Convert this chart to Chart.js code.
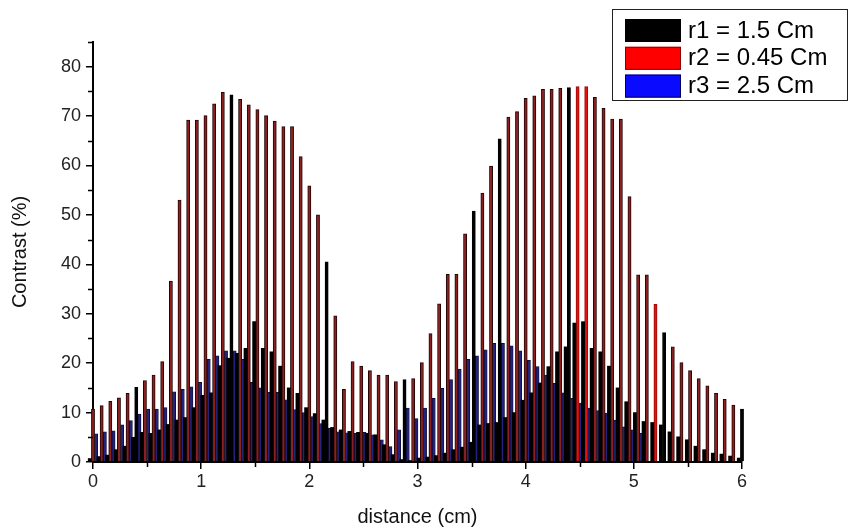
<!DOCTYPE html>
<html>
<head>
<meta charset="utf-8">
<script src="https://cdn.jsdelivr.net/npm/chart.js@4.4.1/dist/chart.umd.min.js"></script>
<style>
  html, body { margin: 0; padding: 0; background: #fff; }
</style>
</head>
<body>
<canvas id="chart" width="850" height="531"></canvas>
<script>
// distance (cm): one group of three bars every 0.08 cm, from 0 to 6
const distance = Array.from({ length: 76 }, (_, i) => +(i * 0.08).toFixed(2));

// contrast (%) per series
const r1 = [0.7, 1.1, 1.4, 2.5, 3.2, 5.0, 6.0, 5.8, 6.5, 7.6,
            8.5, 9.0, 11.0, 13.5, 14.0, 19.5, 21.0, 22.0, 23.0, 28.4,
            23.0, 22.3, 19.4, 15.0, 13.9, 11.0, 9.8, 8.5, 7.0, 6.5,
            6.2, 6.0, 5.8, 5.5, 3.5, 1.5, 0.5, 0.3, 0.8, 1.0,
            1.3, 1.8, 2.5, 3.0, 4.0, 7.5, 7.8, 8.0, 9.0, 10.0,
            12.5, 14.0, 16.0, 19.3, 22.3, 23.3, 28.1, 28.4, 23.0, 22.3,
            19.4, 15.0, 12.2, 10.0, 8.2, 8.0, 7.5, 6.1, 5.1, 4.5,
            3.2, 2.5, 1.8, 1.6, 1.2, 0.8];
const r2 = [10.7, 11.4, 12.3, 13.0, 13.9, 15.1, 16.5, 17.6, 20.3, 36.6,
            53.0, 69.2, 69.2, 70.1, 72.5, 74.8, 74.3, 73.4, 72.3, 71.3,
            70.1, 69.0, 67.9, 67.9, 61.8, 55.9, 50.0, 40.5, 29.6, 14.7,
            20.3, 19.4, 18.5, 17.6, 17.6, 16.3, 16.7, 16.9, 20.1, 26.0,
            32.0, 38.0, 38.0, 46.2, 50.8, 54.4, 59.9, 65.4, 69.8, 70.9,
            73.6, 74.1, 75.4, 75.4, 75.6, 75.8, 76.0, 76.0, 73.8, 71.6,
            69.4, 69.4, 53.7, 37.9, 37.9, 31.9, 26.2, 23.3, 20.1, 18.5,
            16.9, 15.4, 13.9, 12.7, 11.5, 10.7];
const r3 = [5.7, 6.1, 6.3, 7.5, 8.4, 9.7, 10.7, 10.7, 11.0, 14.2,
            14.7, 15.2, 16.1, 20.8, 21.5, 22.5, 22.5, 20.8, 16.1, 15.0,
            14.1, 14.1, 12.6, 10.6, 10.0, 9.2, 7.8, 6.8, 6.1, 5.9,
            5.8, 6.0, 5.5, 4.5, 3.1, 6.5, 10.9, 8.8, 10.9, 12.9,
            14.9, 16.7, 18.8, 20.8, 21.5, 22.7, 24.0, 24.0, 23.5, 22.5,
            20.6, 19.3, 17.6, 15.9, 14.0, 12.9, 11.9, 10.9, 10.4, 9.9,
            8.5, 7.1, 6.5, 5.8, 0, 0, 0, 0, 0, 0,
            0, 0, 0, 0, 0, 0];

const seriesLabels = ['r1 = 1.5 Cm', 'r2 = 0.45 Cm', 'r3 = 2.5 Cm'];
const xTicks = [0, 1, 2, 3, 4, 5, 6];
const xMinor = [0.5, 1.5, 2.5, 3.5, 4.5, 5.5];
const yTicks = [0, 10, 20, 30, 40, 50, 60, 70, 80];
const yMinor = [5, 15, 25, 35, 45, 55, 65, 75, 85];

// r2 bars that the original draws black or bright red
const r2BlackAt = [5, 16, 27, 36, 44, 47, 55, 66, 75];
const r2BrightAt = [56, 57, 65];

const pts = vals => vals.map((v, i) => ({ x: distance[i], y: v }));

const r2Fill = r2.map((_, i) =>
  r2BlackAt.includes(i) ? '#000000' : r2BrightAt.includes(i) ? '#e3120c' : '#8c2020');
const r2Edge = r2.map((_, i) =>
  r2BlackAt.includes(i) ? '#000000' : r2BrightAt.includes(i) ? '#9a0a08' : '#220505');

const tickFont = { family: '"Liberation Sans Narrow", "Liberation Sans", Arial, sans-serif', size: 18 };
const titleFont = { family: '"Liberation Sans", Arial, sans-serif', size: 20 };

// shorter ticks at the half steps
const minorTicks = {
  id: 'minorTicks',
  afterDraw(chart) {
    const { ctx, scales: { x, y }, chartArea: a } = chart;
    ctx.save();
    ctx.strokeStyle = '#000';
    ctx.lineWidth = 1.5;
    ctx.beginPath();
    xMinor.forEach(v => {
      const px = Math.round(x.getPixelForValue(v)) + 0.5;
      ctx.moveTo(px, a.bottom);
      ctx.lineTo(px, a.bottom + 5);
    });
    yMinor.forEach(v => {
      const py = Math.round(y.getPixelForValue(v)) + 0.5;
      ctx.moveTo(a.left, py);
      ctx.lineTo(a.left - 5, py);
    });
    ctx.stroke();
    ctx.restore();
  }
};

// boxed legend in the top right corner
const legendBox = {
  id: 'legendBox',
  afterDraw(chart) {
    const ctx = chart.ctx;
    const sw = [['#000000', '#000000'], ['#ff0000', '#8a0000'], ['#0a0aff', '#000060']];
    ctx.save();
    ctx.fillStyle = '#fff';
    ctx.fillRect(612, 9, 235, 91);
    ctx.strokeStyle = '#222';
    ctx.lineWidth = 1;
    ctx.strokeRect(612.5, 9.5, 235, 91);
    ctx.font = '24px "Liberation Sans", Arial, sans-serif';
    ctx.textBaseline = 'middle';
    seriesLabels.forEach((t, i) => {
      const cy = 30 + i * 27.8;
      ctx.fillStyle = sw[i][0];
      ctx.fillRect(625, cy - 11, 56, 23);
      ctx.strokeStyle = sw[i][1];
      ctx.strokeRect(625.5, cy - 10.5, 55, 22);
      ctx.fillStyle = '#000';
      ctx.fillText(t, 688, cy + 1);
    });
    ctx.restore();
  }
};

new Chart(document.getElementById('chart'), {
  type: 'bar',
  data: {
    datasets: [
      { label: seriesLabels[0], data: pts(r1), backgroundColor: '#000000', borderWidth: 0 },
      { label: seriesLabels[1], data: pts(r2), backgroundColor: r2Fill, borderColor: r2Edge, borderWidth: 1 },
      { label: seriesLabels[2], data: pts(r3), backgroundColor: '#23237e', borderColor: '#0a0a35', borderWidth: 0.8 }
    ]
  },
  options: {
    responsive: false,
    animation: false,
    layout: { padding: { top: 42, right: 108, left: 0, bottom: 0 } },
    datasets: { bar: { barThickness: 3.2, clip: 6 } },
    plugins: { legend: { display: false }, tooltip: { enabled: false } },
    scales: {
      x: {
        type: 'linear', min: 0, max: 6, offset: false,
        afterBuildTicks: s => { s.ticks = xTicks.map(v => ({ value: v })); },
        afterFit: s => { s.height = 69; },
        grid: { drawOnChartArea: false, offset: false, tickLength: 7, color: '#000', lineWidth: 1.5 },
        border: { display: true, color: '#000', width: 2 },
        ticks: { color: '#222', font: tickFont, padding: 2, maxRotation: 0 },
        title: { display: true, text: 'distance (cm)', color: '#111', font: titleFont, padding: { top: 2, bottom: 2 } }
      },
      y: {
        min: 0, max: 85,
        afterBuildTicks: s => { s.ticks = yTicks.map(v => ({ value: v })); },
        afterFit: s => { s.width = 93; },
        grid: { drawOnChartArea: false, tickLength: 7, color: '#000', lineWidth: 1.5 },
        border: { display: true, color: '#000', width: 2 },
        ticks: { color: '#222', font: tickFont, padding: 5 },
        title: { display: true, text: 'Contrast (%)', color: '#111', font: titleFont, padding: { top: 8, bottom: 2 } }
      }
    }
  },
  plugins: [minorTicks, legendBox]
});
</script>
</body>
</html>
